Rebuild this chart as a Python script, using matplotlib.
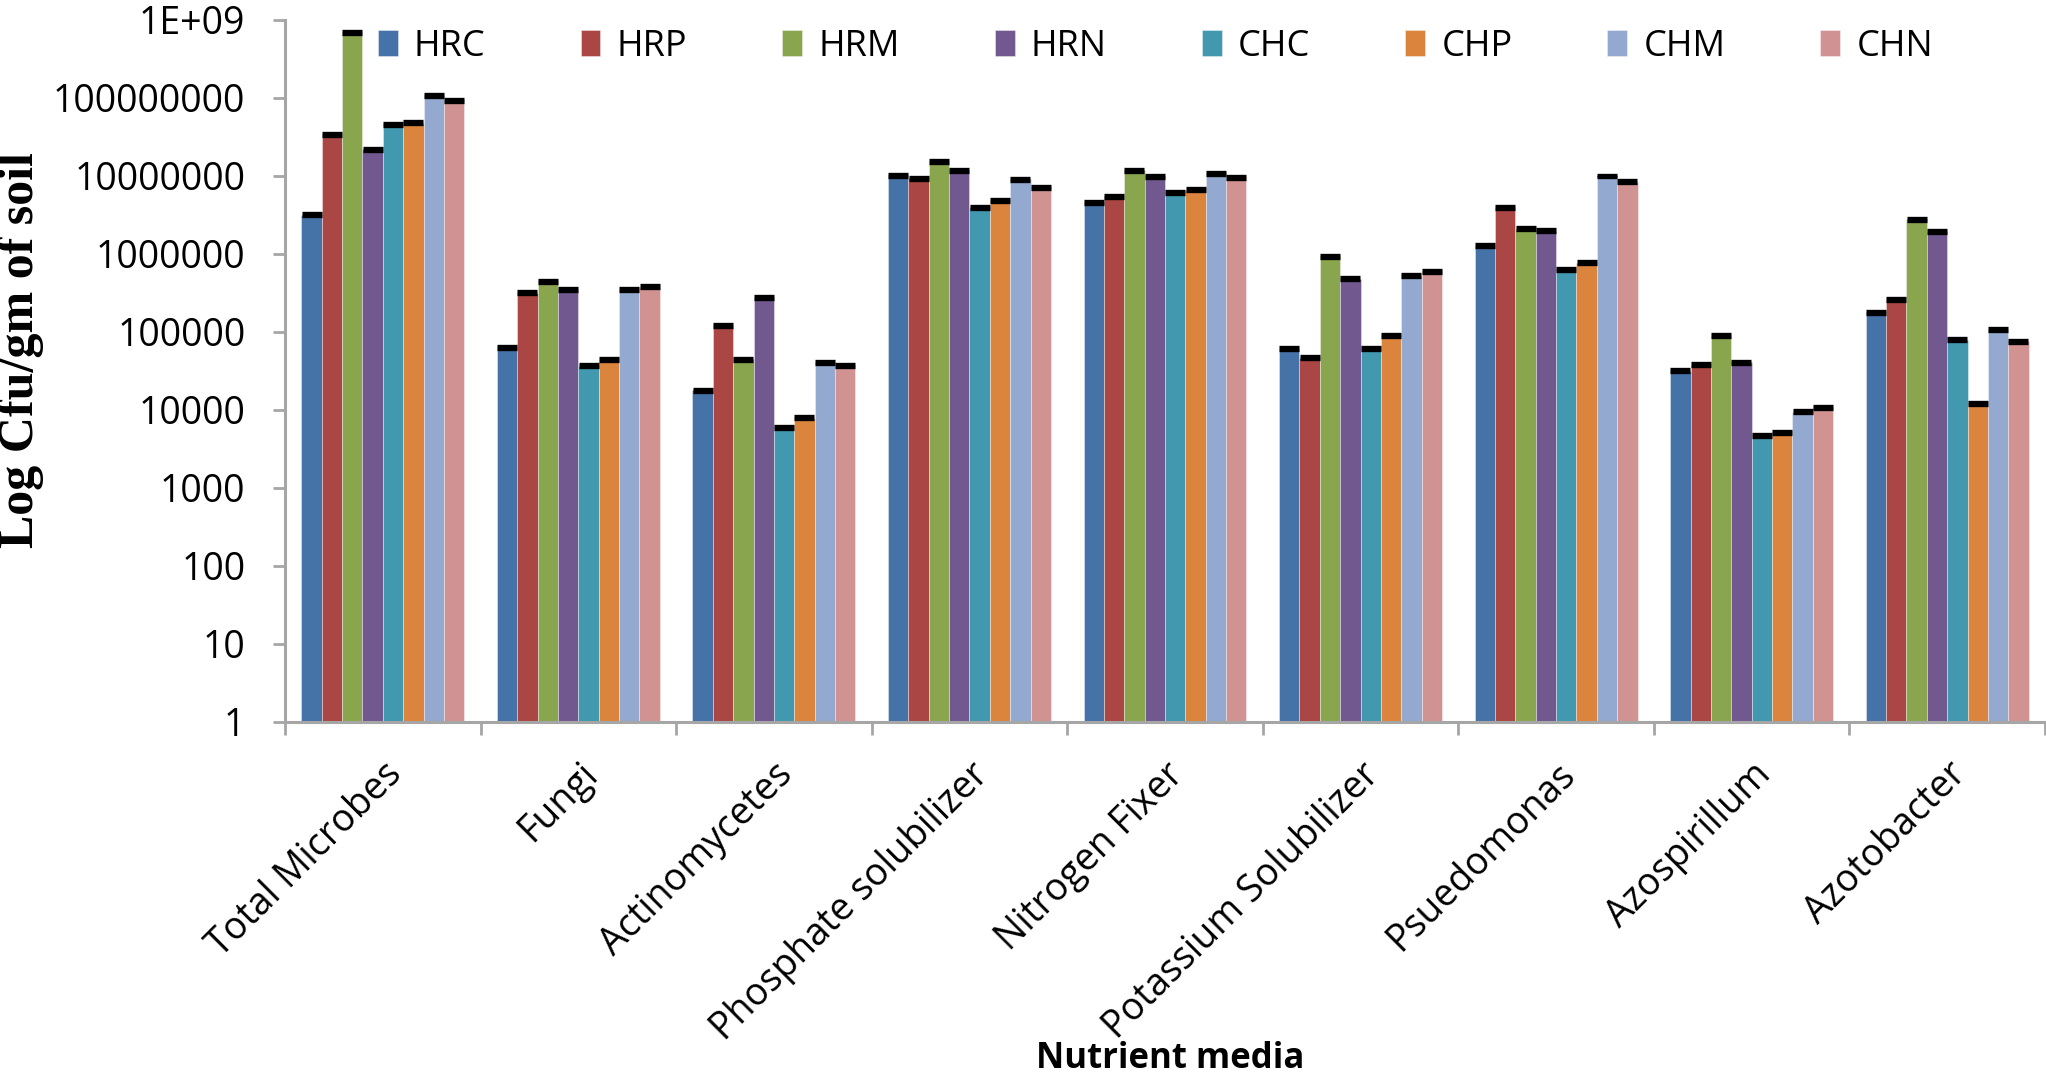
import matplotlib
matplotlib.use("Agg")
import matplotlib.pyplot as plt
import numpy as np
from matplotlib.ticker import FixedLocator, FixedFormatter, NullFormatter

categories = ["Total Microbes", "Fungi", "Actinomycetes", "Phosphate solubilizer",
              "Nitrogen Fixer", "Potassium Solubilizer", "Psuedomonas", "Azospirillum",
              "Azotobacter"]
series_names = ["HRC", "HRP", "HRM", "HRN", "CHC", "CHP", "CHM", "CHN"]

HRC = [3.2e6, 6.3e4, 1.8e4, 1.02e7, 4.6e6, 6.1e4, 1.28e6, 3.2e4, 1.8e5]
HRP = [3.4e7, 3.2e5, 1.2e5, 9.3e6, 5.5e6, 4.7e4, 3.9e6, 3.8e4, 2.6e5]
HRM = [6.9e8, 4.5e5, 4.5e4, 1.53e7, 1.19e7, 9.3e5, 2.1e6, 9.0e4, 2.8e6]
HRN = [2.2e7, 3.5e5, 2.75e5, 1.19e7, 9.9e6, 4.8e5, 2.0e6, 4.1e4, 1.95e6]
CHC = [4.6e7, 3.7e4, 6.0e3, 4.0e6, 6.2e6, 6.2e4, 6.3e5, 4.7e3, 7.9e4]
CHP = [4.8e7, 4.4e4, 7.9e3, 4.8e6, 6.7e6, 9.0e4, 7.7e5, 5.1e3, 1.2e4]
CHM = [1.09e8, 3.5e5, 4.1e4, 9.1e6, 1.09e7, 5.3e5, 1.0e7, 9.5e3, 1.07e5]
CHN = [9.3e7, 3.8e5, 3.7e4, 7.1e6, 9.7e6, 6.0e5, 8.5e6, 1.09e4, 7.6e4]
series_values = [HRC, HRP, HRM, HRN, CHC, CHP, CHM, CHN]

# relative size of the (small) error bars
ERR_REL = 0.045

ytick_values = [1, 10, 100, 1000, 10000, 100000, 1000000, 10000000, 100000000, 1000000000]
ytick_labels = ["1", "10", "100", "1000", "10000", "100000", "1000000", "10000000",
                "100000000", "1E+09"]

colors = ["#4572A7", "#AA4643", "#89A54E", "#71588F", "#4198AF", "#DB843D", "#93A9CF", "#D19392"]

W, H, DPI = 2046, 1081, 100
fig = plt.figure(figsize=(W / DPI, H / DPI), dpi=DPI)
ax = fig.add_axes([285 / W, 1 - 722 / H, (W - 286) / W, (722 - 20) / H])

font = "Open Sans"
axis_gray = "#a6a6a6"

n = len(series_names)
group_frac = 0.833
bw = group_frac / n
x = np.arange(len(categories))
cap_pts = bw * (W - 286) / len(categories) / 2 * 72 / DPI

for i, (name, vals, c) in enumerate(zip(series_names, series_values, colors)):
    pos = x - group_frac / 2 + bw * (i + 0.5)
    v = np.array(vals)
    ax.bar(pos, v - 1, bottom=1, width=bw, color=c, edgecolor=(1, 1, 1, 0.45),
           linewidth=0.6, label=name, zorder=2)
    yerr = np.vstack([v * (1 - 1 / (1 + ERR_REL)), v * ERR_REL])
    ax.errorbar(pos, v, yerr=yerr, fmt="none", ecolor="black", elinewidth=1,
                capsize=cap_pts, capthick=2.4, zorder=3)

ax.set_yscale("log")
ax.set_ylim(1, 1e9)
ax.set_xlim(-0.5, len(categories) - 0.5)

ax.yaxis.set_major_locator(FixedLocator(ytick_values))
ax.yaxis.set_major_formatter(FixedFormatter(ytick_labels))
ax.yaxis.set_minor_locator(FixedLocator([]))
ax.yaxis.set_minor_formatter(NullFormatter())

ax.xaxis.set_major_locator(FixedLocator(np.arange(len(categories) + 1) - 0.5))
ax.xaxis.set_major_formatter(NullFormatter())
ax.xaxis.set_minor_locator(FixedLocator(x))
ax.xaxis.set_minor_formatter(FixedFormatter(categories))

for s in ["top", "right"]:
    ax.spines[s].set_visible(False)
for s in ["left", "bottom"]:
    ax.spines[s].set_color(axis_gray)
    ax.spines[s].set_linewidth(2.2)

ax.tick_params(axis="y", which="major", length=8.5, width=2, color=axis_gray,
               pad=20, labelsize=27)
ax.tick_params(axis="x", which="major", length=9, width=2, color=axis_gray)
ax.tick_params(axis="x", which="minor", length=0, pad=24, labelsize=27)
for lab in ax.get_yticklabels():
    lab.set_fontfamily(font)
for lab in ax.xaxis.get_minorticklabels():
    lab.set_fontfamily(font)
    lab.set_rotation(45)
    lab.set_ha("right")
    lab.set_va("top")
    lab.set_rotation_mode("anchor")

ax.set_xlabel("Nutrient media", fontfamily=font, fontweight="bold", fontsize=25)
ax.xaxis.set_label_coords(0.503, -0.455)
ax.set_ylabel("Log Cfu/gm of soil", fontfamily="Liberation Serif", fontweight="bold",
              fontsize=36)
ax.yaxis.set_label_coords(-0.137, 0.53)

leg = ax.legend(ncol=8, loc="center left", bbox_to_anchor=(0.0445, 0.962), frameon=False,
                prop={"family": font, "size": 26}, handlelength=0.55, handleheight=0.75,
                handletextpad=0.45, columnspacing=2.63, borderaxespad=0)
leg.set_zorder(5)

fig.savefig("out.png", dpi=DPI)
